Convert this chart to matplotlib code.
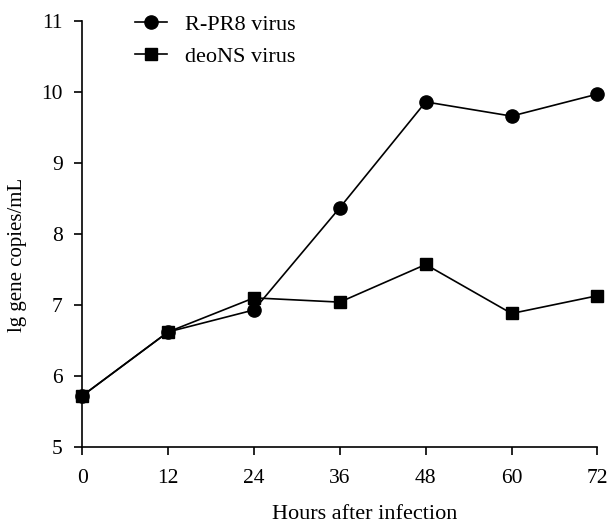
import matplotlib
matplotlib.use("Agg")
import matplotlib.pyplot as plt

hours = [0, 12, 24, 36, 48, 60, 72]
rpr8 = [5.72, 6.62, 6.93, 8.37, 9.86, 9.66, 9.97]
deons = [5.72, 6.62, 7.10, 7.04, 7.57, 6.88, 7.13]

plt.rcParams['font.family'] = ['Liberation Serif', 'DejaVu Serif']
plt.rcParams['font.size'] = 14

fig = plt.figure(figsize=(6.09, 5.24), dpi=100)
ax = fig.add_axes([0.135, 0.147, 0.846, 0.813])

ax.plot(hours, rpr8, color='black', linewidth=1.2, marker='o', markersize=9.5,
        label='R-PR8 virus', clip_on=False, zorder=3)
ax.plot(hours, deons, color='black', linewidth=1.2, marker='s', markersize=9,
        label='deoNS virus', clip_on=False, zorder=3)

ax.set_xlim(0, 72)
ax.set_ylim(5, 11)
ax.set_xticks(hours)
ax.set_yticks(range(5, 12))

ax.spines['top'].set_visible(False)
ax.spines['right'].set_visible(False)
ax.spines['left'].set_linewidth(1.2)
ax.spines['bottom'].set_linewidth(1.2)
ax.tick_params(direction='out', length=6, width=1.2, pad=8, labelsize=15.5)
ax.tick_params(axis='x', pad=10)

ax.set_xlabel('Hours after infection', fontsize=16)
ax.xaxis.set_label_coords(0.548, -0.137)
ax.set_ylabel('lg gene copies/mL', fontsize=15)
ax.yaxis.set_label_coords(-0.107, 0.45)

fig.legend(loc='upper left', bbox_to_anchor=(0.222, 0.972), frameon=False, fontsize=16,
           handlelength=1.45, handletextpad=0.8, labelspacing=0.5,
           borderpad=0, borderaxespad=0)

fig.savefig('out.png', dpi=100)
